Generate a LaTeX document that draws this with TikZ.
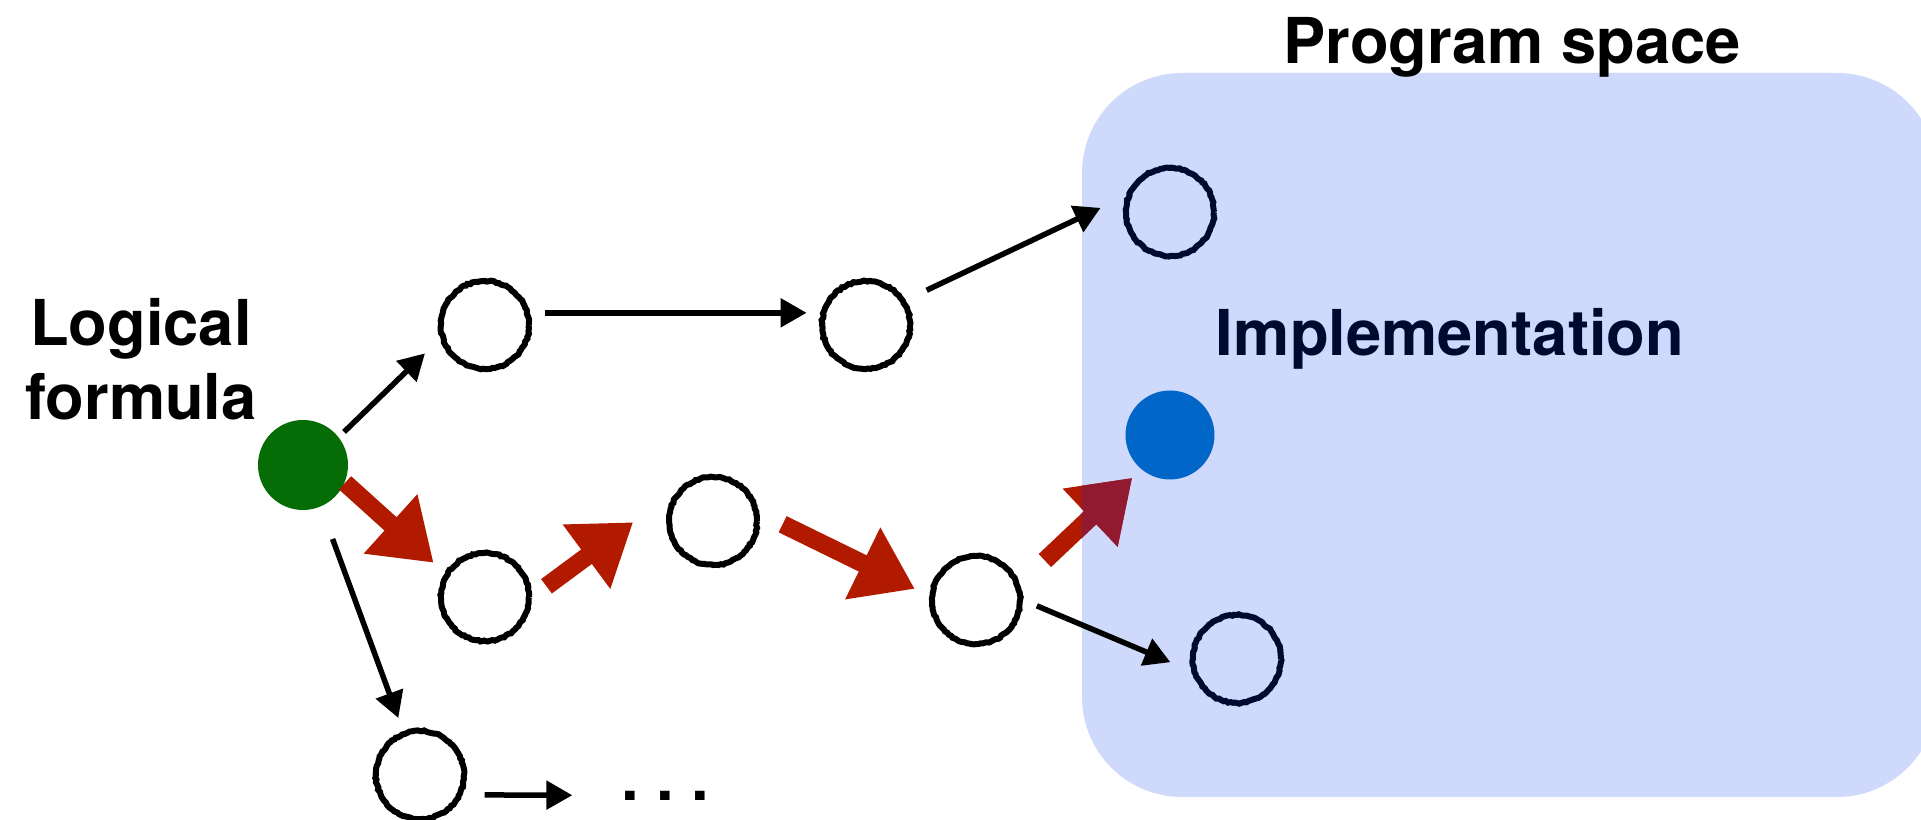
\documentclass[tikz,border=0pt]{standalone}
\usepackage{fontspec}
\setmainfont{TeX Gyre Heros}
\usepackage{tikz}
\usetikzlibrary{arrows.meta,decorations.pathmorphing}
\definecolor{spaceblue}{RGB}{207,217,252}
\definecolor{formgreen}{RGB}{5,108,6}
\definecolor{implblue}{RGB}{0,103,200}
\definecolor{chalkred}{RGB}{178,26,0}
\definecolor{chalkdark}{RGB}{145,26,48}
\definecolor{ink}{RGB}{0,10,48}

\begin{document}
\pgfmathsetseed{7}
\begin{tikzpicture}[x=0.1mm, y=-0.1mm,
  open node/.style={circle, draw, line width=0.6mm, minimum size=8.8mm, inner sep=0pt,
    decorate, decoration={random steps, segment length=0.25mm, amplitude=0.07mm}},
  full node/.style={circle, minimum size=9mm, inner sep=0pt},
  tag/.style={font=\fontsize{18pt}{21.3pt}\selectfont\bfseries},
  step arrow/.style={-{Triangle[length=2.6mm,width=2.8mm]}, line width=0.55mm},
  red arrow/.style={-{Triangle[length=5.8mm,width=7.6mm]}, line width=1.8mm, color=chalkred}]
\useasboundingbox (0,0) rectangle (1921,820);

% program space
\node[fill=spaceblue, rounded corners=10mm, minimum width=85.5mm, minimum height=72.4mm] (space) at (1509.5,435) {};
\node[tag, anchor=base] (title) at (1512,64) {Program space};
\node[tag, text=ink, anchor=base] (impl) at (1450,356) {Implementation};
\node[tag, align=center, anchor=base] (logic) at (141,420) {Logical\\formula};

% states
\node[full node, fill=formgreen] (1) at (303,465) {};
\node[open node] (2) at (485,325) {};
\node[open node] (3) at (866,325) {};
\node[open node, draw=ink] (4) at (1170,212) {};
\node[open node] (5) at (485,597) {};
\node[open node] (6) at (713,521) {};
\node[open node] (7) at (976,600) {};
\node[open node, draw=ink] (8) at (1237,659) {};
\node[open node] (9) at (420,775) {};
\node[full node, fill=implblue, minimum size=8.9mm] (10) at (1170,435) {};
\node[tag, inner sep=0pt, anchor=base] (dots) at (665,800) {.\ .\ .};

% other rewrites
\path[step arrow]
(1.38) edge[shorten <=0.7mm, shorten >=2.1mm] (2.197)
(2.15) edge[shorten <=1.5mm, shorten >=1.4mm] (3.165)
(3.32) edge[shorten <=2.3mm, shorten >=2.8mm] (4.160)
(7.0) edge[shorten <=1.5mm, shorten >=2.3mm] (8.195)
(1.-67) edge[shorten <=3.4mm, shorten >=1.4mm] (9.111)
(9.-25) edge[shorten <=2.2mm, shorten >=4.8mm] (dots.west);

% the derivation
\path[red arrow]
(1.-23) edge[shorten >=1.5mm] (5.149)
(5.0) edge[shorten <=1.8mm, shorten >=5.8mm] (6.135)
(6.10) edge[shorten <=2.6mm, shorten >=1.6mm] (7.175)
(7.20) edge[shorten <=3.4mm, shorten >=1.2mm] (10.230);
\begin{scope}
\clip[rounded corners=10mm] (space.north west) rectangle (space.south east);
\path[red arrow, color=chalkdark]
(7.20) edge[shorten <=3.4mm, shorten >=1.2mm] (10.230);
\end{scope}
\end{tikzpicture}
\end{document}
